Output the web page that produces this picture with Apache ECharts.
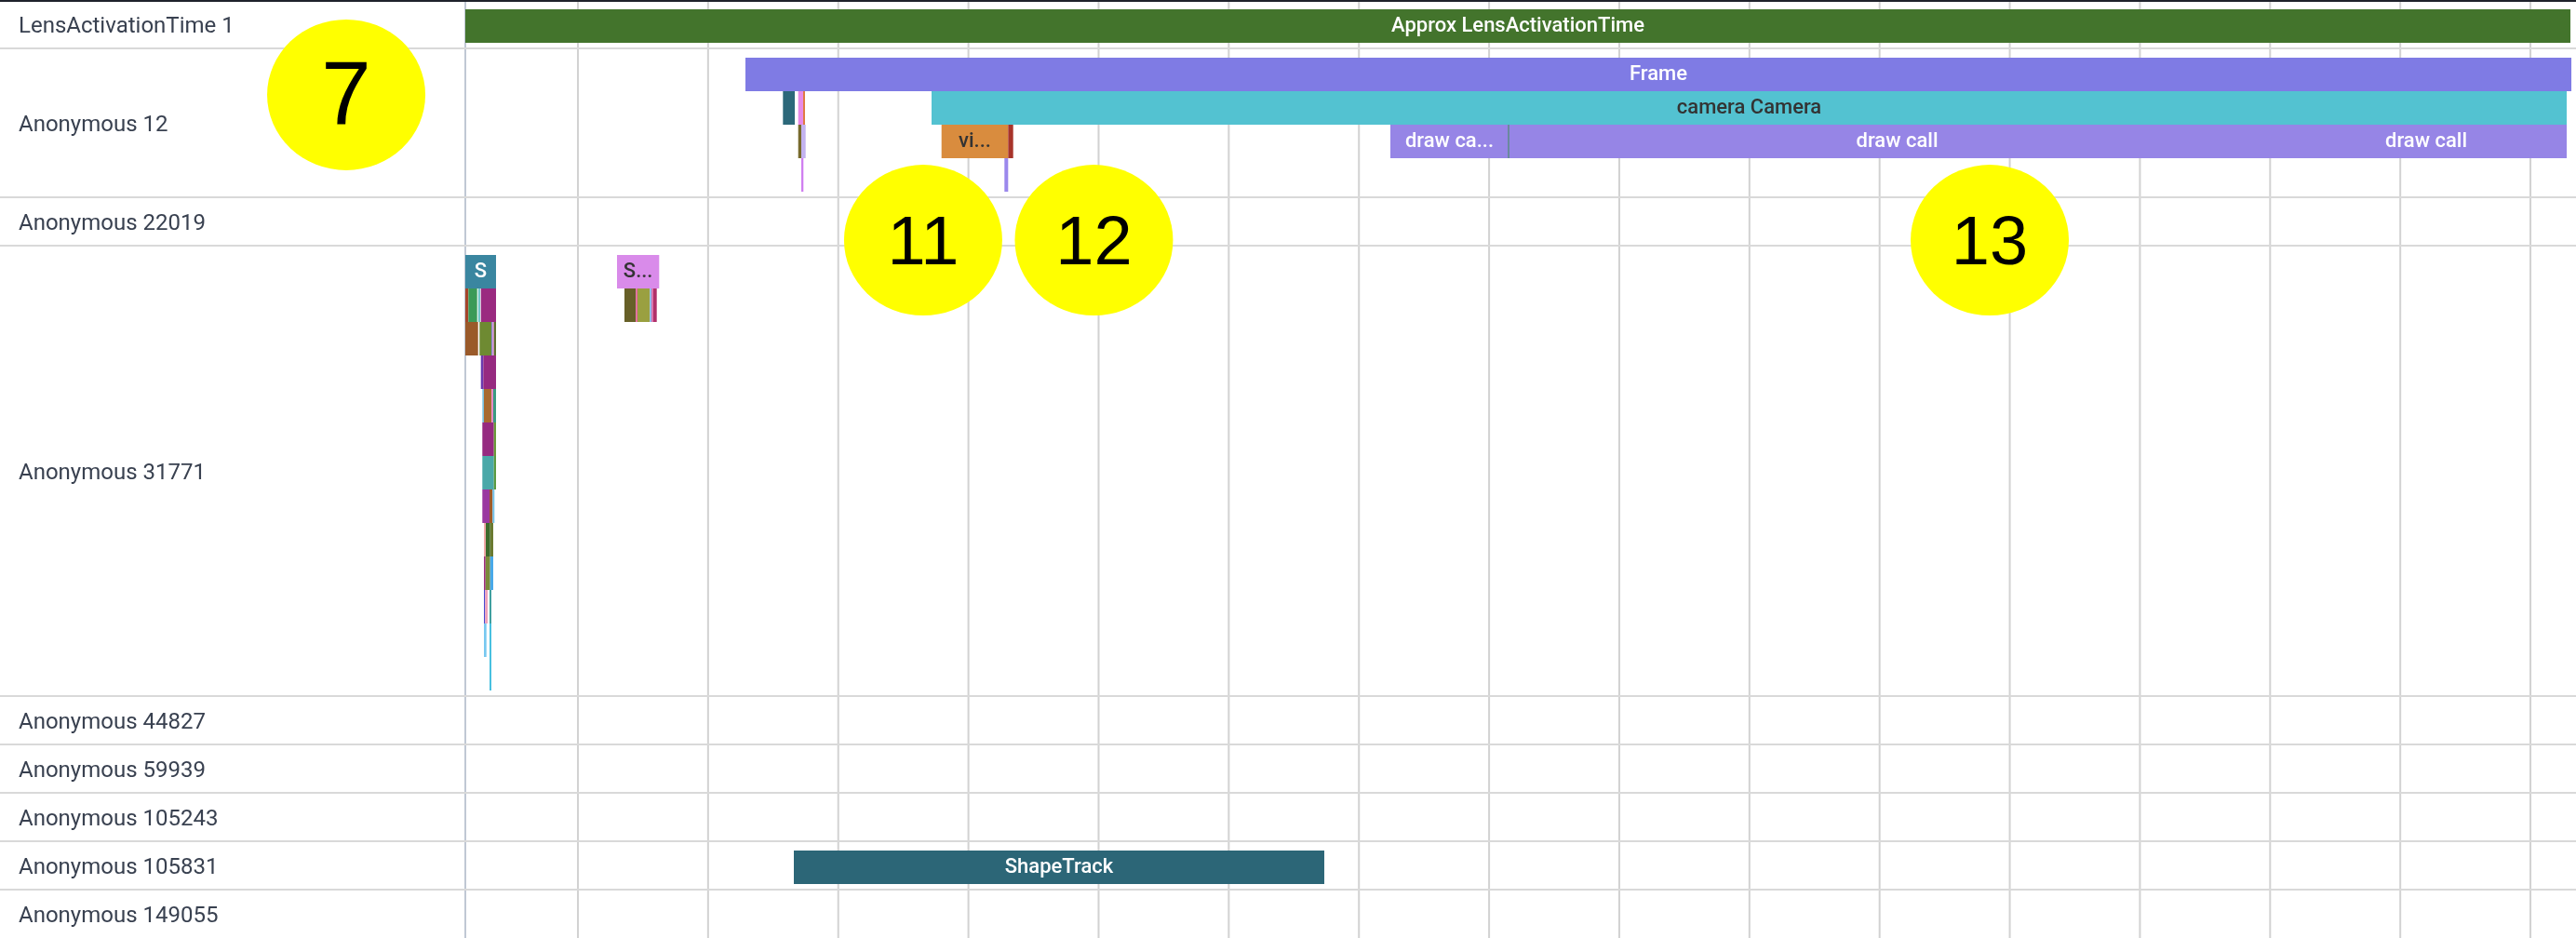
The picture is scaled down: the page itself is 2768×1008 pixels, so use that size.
<!DOCTYPE html>
<html>
<head>
<meta charset="utf-8">
<script src="https://cdn.jsdelivr.net/npm/echarts@6/dist/echarts.min.js"></script>
<style>
html,body{margin:0;padding:0;background:#ffffff;}
#chart{width:2768px;height:1008px;}
</style>
</head>
<body>
<div id="chart"></div>
<script>
// ---------------- data ----------------
const rowNames = ['LensActivationTime 1','Anonymous 12','Anonymous 22019','Anonymous 31771',
  'Anonymous 44827','Anonymous 59939','Anonymous 105243','Anonymous 105831','Anonymous 149055'];
const rowLanes = [1, 4, 1, 13, 1, 1, 1, 1, 1];
const gridTicks = [10,20,30,40,50,60,70,80,90,100,110,120,130,140,150,160];
const timeMin = 1.349, timeMax = 163.5;

// slices: [depth, start, end, label]
const lensSlices = [[0, 1.349, 163.07, 'Approx LensActivationTime']];
const anon12Slices = [
  [0, 22.869, 163.143, 'Frame'],
  [1, 25.751, 26.659, ''],
  [1, 26.923, 27.302, ''],
  [1, 27.302, 27.445, ''],
  [1, 37.168, 162.786, 'camera Camera'],
  [2, 26.923, 27.159, ''],
  [2, 27.159, 27.495, ''],
  [2, 37.933, 43.052, 'vi...'],
  [2, 43.052, 43.438, ''],
  [2, 72.415, 81.495, 'draw ca...'],
  [2, 81.495, 141.194, 'draw call'],
  [2, 141.194, 162.786, 'draw call'],
  [2, 81.46, 81.53, ''],
  [3, 27.159, 27.324, ''],
  [3, 42.766, 43.052, '']
];
const anon31771Slices = [
  [0, 1.349, 3.708, 'S'], [0, 13.003, 16.241, 'S...'],
  [1, 1.349, 1.585, ''], [1, 1.585, 2.257, ''], [1, 2.329, 2.493, ''], [1, 2.543, 3.708, ''],
  [1, 13.575, 14.454, ''], [1, 14.454, 14.576, ''], [1, 14.576, 15.527, ''], [1, 15.527, 15.648, ''],
  [1, 15.648, 15.770, ''], [1, 15.770, 16.056, ''],
  [2, 1.349, 2.329, ''], [2, 2.443, 3.372, ''], [2, 3.372, 3.444, ''], [2, 3.444, 3.544, ''], [2, 3.544, 3.708, ''],
  [3, 2.543, 2.729, ''], [3, 2.729, 3.708, ''],
  [4, 2.657, 2.779, ''], [4, 2.779, 3.372, ''], [4, 3.372, 3.494, ''], [4, 3.494, 3.708, ''],
  [5, 2.657, 3.544, ''], [5, 3.544, 3.708, ''],
  [6, 2.657, 3.544, ''], [6, 3.544, 3.708, ''],
  [7, 2.657, 3.208, ''], [7, 3.208, 3.444, ''], [7, 3.444, 3.587, ''],
  [8, 2.779, 2.922, ''], [8, 2.922, 3.258, ''], [8, 3.258, 3.494, ''],
  [9, 2.779, 2.901, ''], [9, 2.901, 3.258, ''], [9, 3.258, 3.494, ''],
  [10, 2.779, 2.872, ''], [10, 2.872, 3.065, ''], [10, 3.208, 3.351, ''],
  [11, 2.779, 2.972, ''], [11, 3.208, 3.351, ''],
  [12, 3.208, 3.351, '']
];
const shapeSlices = [[0, 26.587, 67.338, 'ShapeTrack']];

// annotation markers
const annoLabels = ['7', '11', '12', '13'];
const annoTimes = [-7.80, 36.52, 49.64, 118.46];
const annoLanes = [2.83, 7.17, 7.17, 7.17];

// ---------------- styles ----------------
const lensColors = ['#43742c'];
const anon12Colors = ['#7f7be4','#2c687a','#e68ae8','#e07a42','#53c2d1','#776a2c','#c3b3f0',
  '#d98c3e','#a8342a','#9685e6','#9685e6','#9685e6','#3f8f5a','#d07ff0','#9b88ec'];
const anon31771Colors = [
  '#3a86a0','#d98bea',
  '#a4452a','#3b9a58','#72c6c8','#9a2a80',
  '#676028','#e8609a','#9aa040','#80b8f0','#e070b0','#b0306a',
  '#9a5a2a','#6e8a32','#6a6ae8','#e080d0','#5e6e30',
  '#6a3ab0','#962a80',
  '#7ac0e0','#a86a30','#e880c8','#3a9a80',
  '#962a80','#6a9a38',
  '#4aa8a8','#5a9a40',
  '#9a38a0','#a05a2a','#70c0e8',
  '#f0a8a8','#3c6a2c','#6a7a30',
  '#a02a80','#7a8a3a','#48a8e8',
  '#4848d0','#f0a0b8','#40a0a0',
  '#78c8f0','#48c0e0',
  '#48c0e0'
];
const shapeColors = ['#2c6677'];

const LANE_PX = 36;
const ROW_EXTRA = 16 / LANE_PX;
const ROW_PAD = 10 / LANE_PX;

// ---------------- layout (rows) ----------------
const rowH = rowLanes.map(l => l + ROW_EXTRA);
const rowTop = [];
rowH.reduce((acc, h, i) => { rowTop[i] = acc; return acc + h; }, 0);
const totalLanes = rowH.reduce((a, b) => a + b, 0);

const groups = [
  [0, lensSlices, lensColors],
  [1, anon12Slices, anon12Colors],
  [3, anon31771Slices, anon31771Colors],
  [7, shapeSlices, shapeColors]
];
const sliceData = [], sliceLabels = [], sliceFills = [];
groups.forEach(([row, arr, cols]) => {
  arr.forEach((s, i) => {
    sliceData.push([row, s[0], s[1], s[2]]);
    sliceLabels.push(s[3]);
    sliceFills.push(cols[i]);
  });
});

function textOn(hex) {
  const r = parseInt(hex.substr(1, 2), 16), g = parseInt(hex.substr(3, 2), 16), b = parseInt(hex.substr(5, 2), 16);
  const lum = (0.2126 * r + 0.7152 * g + 0.0722 * b) / 255;
  return lum > 0.57 ? '#333333' : '#ffffff';
}

const chart = echarts.init(document.getElementById('chart'), null, {renderer: 'canvas'});

const option = {
  animation: false,
  backgroundColor: '#ffffff',
  grid: {left: 500, right: 0, top: 0, bottom: 0, containLabel: false},
  xAxis: {type: 'value', min: timeMin, max: timeMax, show: false},
  yAxis: {
    type: 'value', min: 0, max: totalLanes, inverse: true,
    axisLine: {show: true, onZero: false, lineStyle: {color: '#c0c8d4', width: 2}},
    axisTick: {show: false}, axisLabel: {show: false}, splitLine: {show: false}
  },
  graphic: [{type: 'rect', z: 100, shape: {x: 0, y: 0, width: 2768, height: 2}, style: {fill: '#1f222b'}}],
  series: [
    {
      // vertical time grid
      type: 'custom', z: 1, silent: true,
      data: gridTicks.map(t => [t]),
      renderItem: (params, api) => {
        const a = api.coord([api.value(0), 0]);
        const b = api.coord([api.value(0), totalLanes]);
        return {type: 'line', shape: {x1: a[0], y1: a[1], x2: b[0], y2: b[1]},
          style: {stroke: '#d2d2d2', lineWidth: 2}};
      }
    },
    {
      // track labels and row separators
      type: 'custom', z: 2, silent: true,
      data: rowNames.map((n, i) => [i]),
      renderItem: (params, api) => {
        const i = api.value(0);
        const c = api.coord([timeMin, rowTop[i] + rowH[i] / 2]);
        const bottom = api.coord([timeMin, rowTop[i] + rowH[i]])[1];
        const children = [{
          type: 'text',
          style: {text: rowNames[i], x: params.coordSys.x - 480, y: c[1] + 3,
            fill: '#394150', fontSize: 24, fontFamily: 'Roboto', verticalAlign: 'middle', align: 'left'}
        }];
        if (i < rowNames.length - 1) {
          children.push({type: 'line', shape: {x1: 0, y1: bottom, x2: params.coordSys.x + params.coordSys.width, y2: bottom},
            style: {stroke: '#d9d9d9', lineWidth: 2}});
        }
        return {type: 'group', children};
      }
    },
    {
      // slices
      type: 'custom', z: 3,
      data: sliceData,
      renderItem: (params, api) => {
        const row = api.value(0), depth = api.value(1);
        const y0 = rowTop[row] + ROW_PAD + depth;
        const p0 = api.coord([api.value(2), y0]);
        const p1 = api.coord([api.value(3), y0 + 1]);
        const fill = sliceFills[params.dataIndex];
        const label = sliceLabels[params.dataIndex];
        const el = {
          type: 'rect',
          shape: {x: p0[0], y: p0[1], width: Math.max(p1[0] - p0[0], 1), height: p1[1] - p0[1]},
          style: {fill: fill}
        };
        if (label) {
          el.textContent = {style: {text: label, fill: textOn(fill), fontSize: 22, fontWeight: 500, fontFamily: 'Roboto'}};
          el.textConfig = {position: 'inside'};
        }
        return el;
      }
    },
    {
      // annotation markers
      type: 'scatter', z: 10, clip: false, silent: true,
      symbol: 'circle', symbolSize: [170, 162],
      itemStyle: {color: '#ffff00', opacity: 1},
      data: annoLabels.map((l, i) => ({
        value: [annoTimes[i], annoLanes[i], l],
        label: {fontSize: l.length > 1 ? 74 : 96}
      })),
      label: {show: true, position: 'inside', offset: [0, 5], formatter: p => p.value[2], color: '#000000',
        fontFamily: 'Liberation Sans', fontWeight: 'normal'}
    }
  ]
};
chart.setOption(option);
</script>
</body>
</html>
